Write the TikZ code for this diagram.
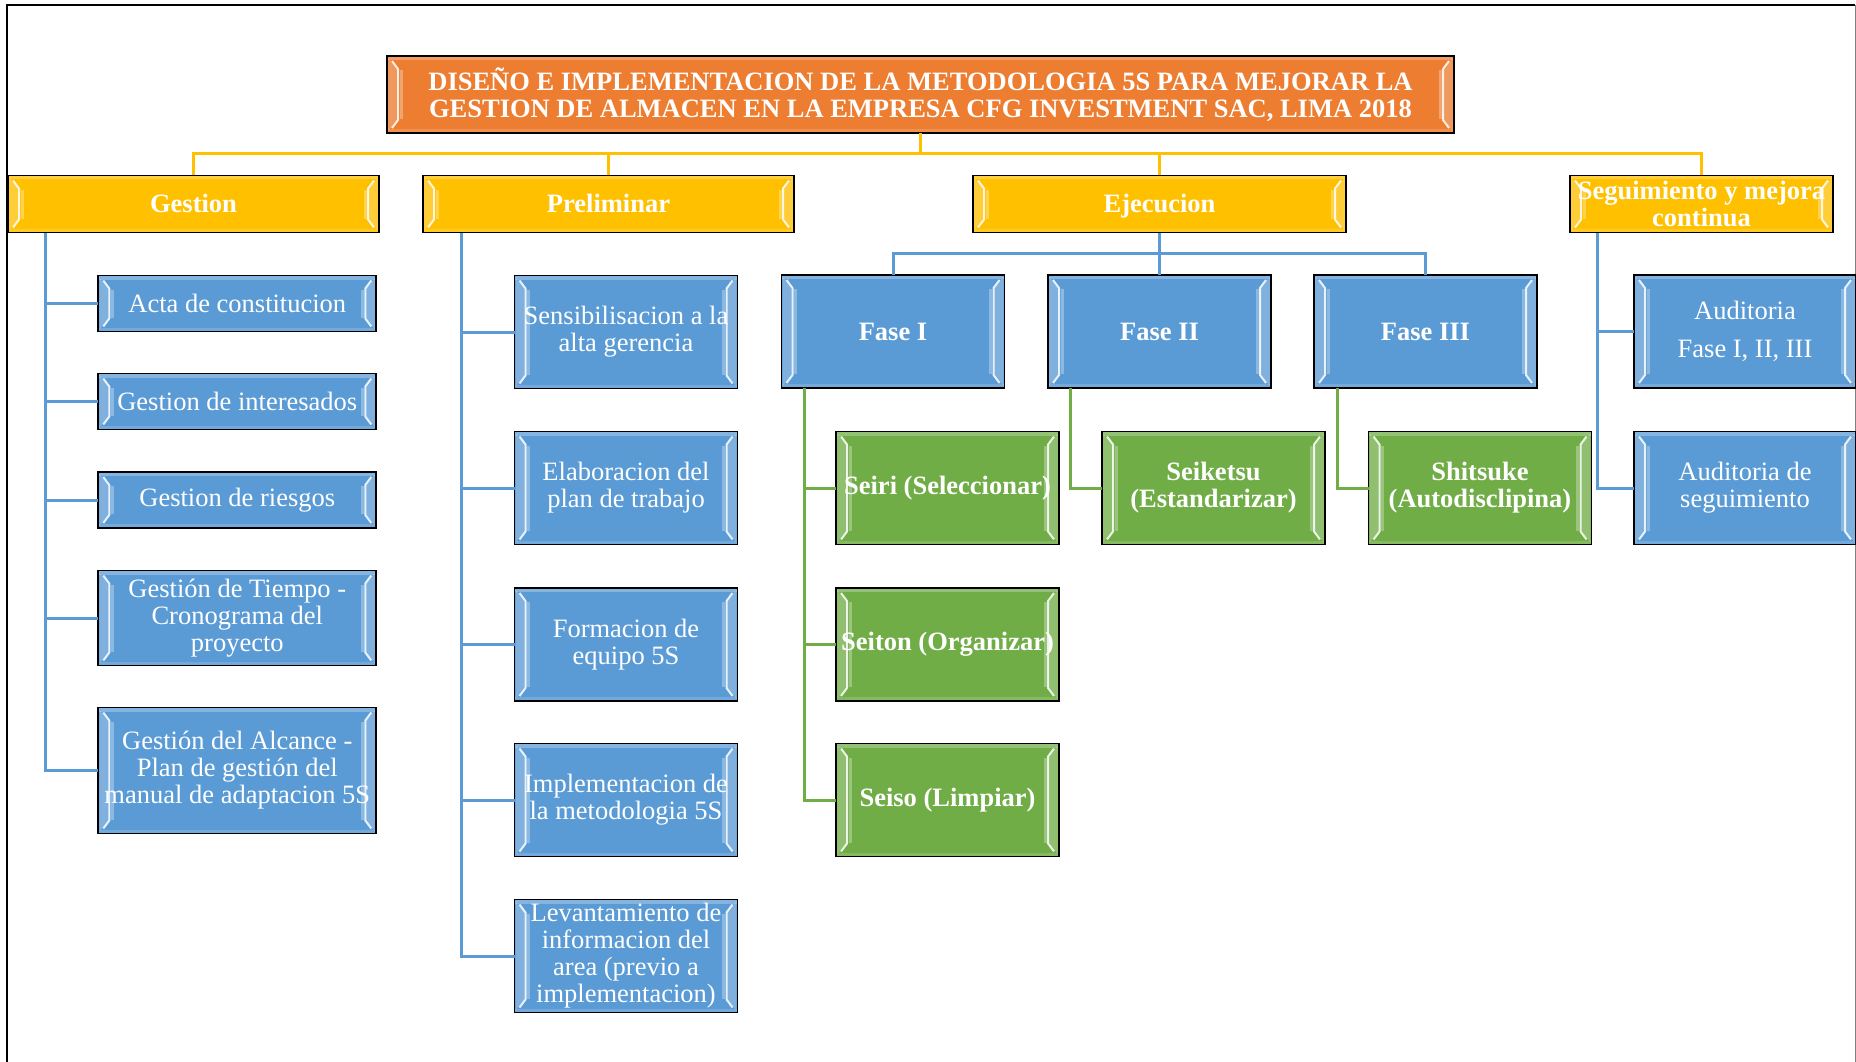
\documentclass[tikz,border=0pt]{standalone}
\usepackage{fontspec}
\setmainfont{Liberation Serif}
\usetikzlibrary{calc}

\definecolor{cOrange}{HTML}{ED7D31}
\definecolor{cYellow}{HTML}{FFC000}
\definecolor{cBlue}{HTML}{5B9BD5}
\definecolor{cGreen}{HTML}{70AD47}

\newcommand\boxfont{\fontsize{26.5}{27}\selectfont}

\tikzset{
  bevelbox/.style={draw=black, line width=1.8pt, fill=#1, inner sep=0pt, outer sep=0pt,
    text=white, align=center, font=\boxfont,
    path picture={
      \path (path picture bounding box.north west) coordinate (bNW)
            (path picture bounding box.north east) coordinate (bNE)
            (path picture bounding box.south west) coordinate (bSW)
            (path picture bounding box.south east) coordinate (bSE);
      % top and bottom rims
      \fill[white,opacity=.25] (bNW) rectangle ([shift={(0pt,-4pt)}]bNE);
      \fill[white,opacity=.15] (bSW) rectangle ([shift={(0pt,4pt)}]bSE);
      % side faces of the bevel
      \fill[white,opacity=.22] ([shift={(1pt,-2pt)}]bNW) -- ([shift={(11pt,-13pt)}]bNW)
            -- ([shift={(11pt,13pt)}]bSW) -- ([shift={(1pt,2pt)}]bSW) -- cycle;
      \fill[white,opacity=.22] ([shift={(-1pt,-2pt)}]bNE) -- ([shift={(-11pt,-13pt)}]bNE)
            -- ([shift={(-11pt,13pt)}]bSE) -- ([shift={(-1pt,2pt)}]bSE) -- cycle;
      % bright bevel edges
      \draw[white,opacity=.85,line width=2pt,line join=round]
            ([shift={(5pt,-5pt)}]bNW) -- ([shift={(11pt,-13pt)}]bNW)
            -- ([shift={(11pt,13pt)}]bSW) -- ([shift={(5pt,5pt)}]bSW);
      \draw[white,opacity=.85,line width=2pt,line join=round]
            ([shift={(-5pt,-5pt)}]bNE) -- ([shift={(-11pt,-13pt)}]bNE)
            -- ([shift={(-11pt,13pt)}]bSE) -- ([shift={(-5pt,5pt)}]bSE);
      \draw[white,opacity=.3,line width=3pt]
            ([shift={(14pt,-14pt)}]bNW) -- ([shift={(14pt,14pt)}]bSW);
      \draw[white,opacity=.3,line width=3pt]
            ([shift={(-14pt,-14pt)}]bNE) -- ([shift={(-14pt,14pt)}]bSE);
    }},
  headbox/.style={bevelbox=cYellow, minimum height=57pt, font=\boxfont\bfseries},
  oneline/.style={text height=17pt, text depth=0pt},
  taskbox/.style={bevelbox=cBlue, minimum width=223pt, minimum height=113pt},
  gestbox/.style={bevelbox=cBlue, minimum width=278pt},
  phasebox/.style={bevelbox=cBlue, minimum width=223pt, minimum height=113pt, font=\boxfont\bfseries},
  sbox/.style={bevelbox=cGreen, minimum width=223pt, minimum height=113pt, font=\boxfont\bfseries},
  yconn/.style={draw=cYellow, line width=3pt},
  bconn/.style={draw=cBlue, line width=3pt},
  gconn/.style={draw=cGreen, line width=3pt},
}

\begin{document}
\begin{tikzpicture}[x=1pt,y=-1pt]
\useasboundingbox (0,0) rectangle (1856,1062);
\fill[white] (0,0) rectangle (1856,1062);

% page frame
\draw[black,line width=2.5pt] (7,1062) -- (7,5) -- (1855,5);
\draw[gray,line width=1pt] (1855,5) -- (1855,1062);

% title
\node[bevelbox=cOrange, minimum width=1067pt, minimum height=77pt, font=\boxfont\bfseries]
  (title) at (920.5,94.5)
  {DISEÑO E IMPLEMENTACION DE LA METODOLOGIA 5S PARA MEJORAR LA\\GESTION DE ALMACEN EN LA EMPRESA CFG INVESTMENT SAC, LIMA 2018};

% main branches
\node[headbox, oneline, minimum width=371pt] (gestion) at (193.5,204) {Gestion};
\node[headbox, oneline, minimum width=371pt] (prelim) at (608.5,204) {Preliminar};
\node[headbox, oneline, minimum width=373pt] (ejec) at (1159.5,204) {Ejecucion};
\node[headbox, minimum width=263pt] (segui) at (1701.5,204) {Seguimiento y mejora\\continua};

% Gestion
\node[gestbox, minimum height=56pt] (acta) at (237.3,303.5) {Acta de constitucion};
\node[gestbox, minimum height=56pt] (interes) at (237.3,401.5) {Gestion de interesados};
\node[gestbox, minimum height=56pt] (riesgos) at (237.3,500) {Gestion de riesgos};
\node[gestbox, minimum height=95pt] (tiempo) at (237.3,618) {Gestión de Tiempo -\\Cronograma del\\proyecto};
\node[gestbox, minimum height=126pt] (alcance) at (237.3,770.5) {Gestión del Alcance -\\Plan de gestión del\\manual de adaptacion 5S};

% Preliminar
\node[taskbox] (sensib) at (626,332) {Sensibilisacion a la\\alta gerencia};
\node[taskbox] (elabor) at (626,488) {Elaboracion del\\plan de trabajo};
\node[taskbox] (formac) at (626,644.5) {Formacion de\\equipo 5S};
\node[taskbox] (implem) at (626,800) {Implementacion de\\la metodologia 5S};
\node[taskbox] (levant) at (626,956) {Levantamiento de\\informacion del\\area (previo a\\implementacion)};

% Ejecucion
\node[phasebox] (fase1) at (893,331.5) {Fase I};
\node[phasebox] (fase2) at (1159.5,331.5) {Fase II};
\node[phasebox] (fase3) at (1425.5,331.5) {Fase III};

\node[sbox] (seiri) at (947.5,488) {Seiri (Seleccionar)};
\node[sbox] (seiton) at (947.5,644.5) {Seiton (Organizar)};
\node[sbox] (seiso) at (947.5,800) {Seiso (Limpiar)};
\node[sbox] (seiketsu) at (1213.5,488) {Seiketsu\\(Estandarizar)};
\node[sbox] (shitsuke) at (1480,488) {Shitsuke\\(Autodisclipina)};

% Seguimiento
\node[taskbox, minimum width=222pt] (aud1) at (1745,331.5) {Auditoria\\[11pt]Fase I, II, III};
\node[taskbox, minimum width=222pt] (aud2) at (1745,488) {Auditoria de\\seguimiento};

% connectors: title to main branches
\coordinate (ybus) at (0,154);
\draw[yconn] (title.south) -- (title.south |- ybus);
\draw[yconn] (gestion.north) -- (gestion.north |- ybus) -- (segui.north |- ybus) -- (segui.north);
\draw[yconn] (prelim.north) -- (prelim.north |- ybus);
\draw[yconn] (ejec.north) -- (ejec.north |- ybus);

% Gestion trunk
\coordinate (gtrunk) at (45,0);
\draw[bconn] (gtrunk |- gestion.south) |- (alcance.west);
\foreach \n in {acta,interes,riesgos,tiempo}
  \draw[bconn] (gtrunk |- \n.west) -- (\n.west);

% Preliminar trunk
\coordinate (ptrunk) at (461,0);
\draw[bconn] (ptrunk |- prelim.south) |- (levant.west);
\foreach \n in {sensib,elabor,formac,implem}
  \draw[bconn] (ptrunk |- \n.west) -- (\n.west);

% Ejecucion to phases
\coordinate (ebus) at (0,253);
\draw[bconn] (fase1.north) -- (fase1.north |- ebus) -- (fase3.north |- ebus) -- (fase3.north);
\draw[bconn] (ejec.south) -- (fase2.north);

% phases to the 5S steps
\coordinate (f1trunk) at (804,0);
\draw[gconn] (f1trunk |- fase1.south) |- (seiso.west);
\draw[gconn] (f1trunk |- seiri.west) -- (seiri.west);
\draw[gconn] (f1trunk |- seiton.west) -- (seiton.west);
\coordinate (f2trunk) at (1070,0);
\draw[gconn] (f2trunk |- fase2.south) |- (seiketsu.west);
\coordinate (f3trunk) at (1337.5,0);
\draw[gconn] (f3trunk |- fase3.south) |- (shitsuke.west);

% Seguimiento trunk
\coordinate (strunk) at (1597,0);
\draw[bconn] (strunk |- segui.south) |- (aud2.west);
\draw[bconn] (strunk |- aud1.west) -- (aud1.west);
\end{tikzpicture}
\end{document}
